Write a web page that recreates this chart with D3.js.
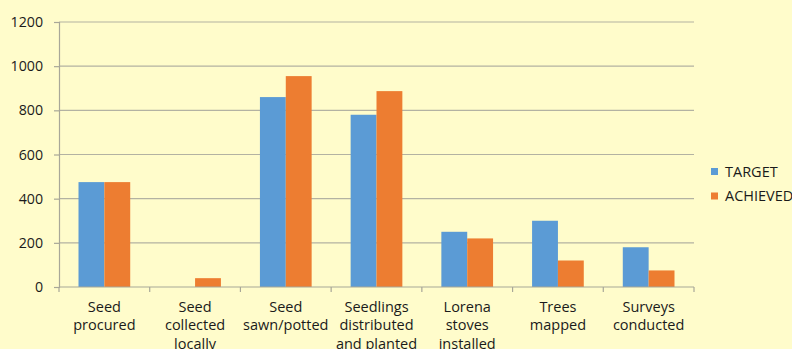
<!DOCTYPE html>
<html>
<head>
<meta charset="utf-8">
<script src="https://cdn.jsdelivr.net/npm/d3@7/dist/d3.min.js"></script>
<style>
  html, body { margin: 0; padding: 0; background: #FFFCCB; }
  svg { display: block; }
  text { font-family: "Open Sans", Lato, sans-serif; fill: #1a1a1a; }
</style>
</head>
<body>
<svg id="chart" width="792" height="349"></svg>
<script>
// Activity labels (each split into display lines)
const categories = [
  ["Seed", "procured"],
  ["Seed", "collected", "locally"],
  ["Seed", "sawn/potted"],
  ["Seedlings", "distributed", "and planted"],
  ["Lorena", "stoves", "installed"],
  ["Trees", "mapped"],
  ["Surveys", "conducted"]
];
const seriesNames = ["TARGET", "ACHIEVED"];
const target   = [475, 0, 860, 780, 250, 300, 180];
const achieved = [475, 40, 955, 887, 220, 120, 75];
const yTicks = [0, 200, 400, 600, 800, 1000, 1200];
const colors = ["#5B9BD5", "#ED7D31"];

const svg = d3.select("#chart");
const margin = { left: 59, right: 98, top: 22, bottom: 62 };
const W = 792, H = 349;
const plotW = W - margin.left - margin.right;
const plotH = H - margin.top - margin.bottom;
const fontSize = "14.5px";
const tickFontSize = "14.2px";

const g = svg.append("g").attr("transform", `translate(${margin.left},${margin.top})`);

const idx = d3.range(categories.length);
const x0 = d3.scaleBand().domain(idx).range([0, plotW]).padding(0);
const x1 = d3.scaleBand().domain(seriesNames)
  .range([x0.bandwidth() * 0.215, x0.bandwidth() * 0.785]).padding(0);
const y = d3.scaleLinear().domain([0, 1200]).range([plotH, 0]);

// Horizontal gridlines
g.append("g").selectAll("line").data(yTicks.filter(d => d > 0)).join("line")
  .attr("x1", 0).attr("x2", plotW)
  .attr("y1", d => y(d)).attr("y2", d => y(d))
  .attr("stroke", "#B3B2A2").attr("stroke-width", 1.2);

// Y axis
const yAxis = g.append("g")
  .call(d3.axisLeft(y).tickValues(yTicks).tickSize(5).tickPadding(11).tickFormat(d3.format("d")));
yAxis.select(".domain").attr("stroke", "#A8A798").attr("stroke-width", 1.2);
yAxis.selectAll(".tick line").attr("stroke", "#A8A798").attr("stroke-width", 1.2);
yAxis.selectAll(".tick text").attr("font-size", tickFontSize).attr("fill", "#1a1a1a")
  .style("font-family", "'Open Sans', Lato, sans-serif");

// Bars
const rows = idx.map(i => ({ i, vals: [target[i], achieved[i]] }));
const groups = g.append("g").selectAll("g").data(rows).join("g")
  .attr("transform", d => `translate(${x0(d.i)},0)`);
groups.selectAll("rect").data(d => d.vals.map((v, k) => ({ k, v }))).join("rect")
  .attr("x", d => x1(seriesNames[d.k]))
  .attr("width", x1.bandwidth())
  .attr("y", d => y(d.v))
  .attr("height", d => y(0) - y(d.v))
  .attr("fill", d => colors[d.k]);

// X axis line with category separators
const xa = g.append("g").attr("transform", `translate(0,${plotH})`);
xa.append("line").attr("x1", 0).attr("x2", plotW).attr("y1", 0).attr("y2", 0)
  .attr("stroke", "#A8A798").attr("stroke-width", 1.2);
xa.selectAll("line.sep").data(d3.range(categories.length + 1)).join("line")
  .attr("class", "sep")
  .attr("x1", d => d * x0.step()).attr("x2", d => d * x0.step())
  .attr("y1", 0).attr("y2", 5)
  .attr("stroke", "#A8A798").attr("stroke-width", 1.2);

// Category labels
const lab = xa.selectAll("text.cat").data(idx).join("text")
  .attr("class", "cat")
  .attr("text-anchor", "middle")
  .attr("font-size", fontSize)
  .attr("transform", i => `translate(${x0(i) + x0.bandwidth() / 2},24.5)`);
lab.selectAll("tspan").data(i => categories[i]).join("tspan")
  .attr("x", 0).attr("dy", (d, j) => j === 0 ? 0 : 18.5)
  .text(d => d);

// Legend
const leg = svg.append("g").attr("transform", "translate(711,168)");
const li = leg.selectAll("g").data(seriesNames).join("g")
  .attr("transform", (d, k) => `translate(0,${k * 24.5})`);
li.append("rect").attr("width", 7).attr("height", 7).attr("fill", (d, k) => colors[k]);
li.append("text").attr("x", 14).attr("y", 8.5).attr("font-size", fontSize).text(d => d);
</script>
</body>
</html>
